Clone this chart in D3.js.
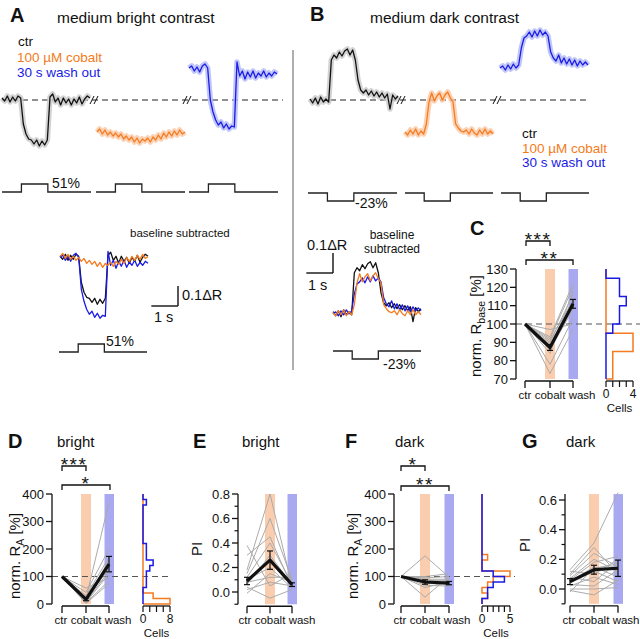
<!DOCTYPE html>
<html><head><meta charset="utf-8">
<script src="https://cdn.jsdelivr.net/npm/d3@7"></script>
<style>body{margin:0;background:#fff}</style>
</head><body><script>
// ---------------- DATA ----------------
const sampleStep = 0.1;          // s between samples
const stimOn = 0.72, stimOff = 1.7, sweepEnd = 3.3;
const contrastBright = "51%", contrastDark = "-23%";
const conditions = ["ctr", "cobalt", "wash"];
const legendLabels = ["ctr", "100 µM cobalt", "30 s wash out"];

// medium bright contrast (ΔR relative to control baseline)
const brightCtr = [0.01,-0.005,0.02,-0.01,0.015,-0.005,0.02,0.01,-0.12,-0.17,-0.195,-0.2,-0.22,-0.2,-0.23,-0.205,-0.225,-0.2,0.015,0.03,-0.01,0.01,-0.025,0.01,-0.015,0.005,-0.025,0.005,-0.015,0.015,-0.02,0.005,0.02,0.01];
const brightCobalt = [-0.16,-0.145,-0.17,-0.15,-0.175,-0.16,-0.18,-0.165,-0.185,-0.17,-0.195,-0.18,-0.2,-0.185,-0.21,-0.19,-0.215,-0.195,-0.205,-0.19,-0.21,-0.185,-0.2,-0.175,-0.195,-0.165,-0.185,-0.16,-0.18,-0.155,-0.175,-0.15,-0.17,-0.16];
const brightWash = [0.16,0.17,0.145,0.165,0.14,0.17,0.18,0.16,0.0,-0.06,-0.1,-0.125,-0.11,-0.14,-0.12,-0.145,-0.13,-0.135,0.19,0.12,0.145,0.105,0.14,0.115,0.145,0.11,0.135,0.12,0.145,0.115,0.135,0.12,0.14,0.13];
// medium dark contrast
const darkCtr = [0.005,-0.015,0.01,-0.02,0.015,-0.01,0.005,-0.01,0.2,0.225,0.21,0.24,0.22,0.245,0.255,0.225,0.25,0.2,0.1,0.05,0.035,0.05,0.025,0.045,0.02,0.04,0.015,0.035,0.01,0.03,-0.045,0.025,0.005,0.02];
const darkCobalt = [-0.16,-0.175,-0.15,-0.17,-0.145,-0.175,-0.155,-0.17,-0.12,-0.01,0.035,-0.005,0.02,0.035,0.0,0.025,0.04,0.01,-0.01,-0.12,-0.14,-0.155,-0.16,-0.15,-0.17,-0.145,-0.165,-0.175,-0.15,-0.17,-0.145,-0.17,-0.155,-0.17];
const darkWash = [0.16,0.17,0.15,0.175,0.155,0.18,0.16,0.175,0.26,0.31,0.32,0.34,0.315,0.345,0.32,0.35,0.325,0.34,0.32,0.24,0.21,0.195,0.225,0.185,0.21,0.18,0.205,0.175,0.2,0.17,0.195,0.175,0.19,0.175];
const baselineSamples = 7;

// C: norm. R_base [%]
const cCtr = [100,100,100,100,100,100,100,100,100,100,100,100];
const cCobalt = [97,93,92,91,90,89,88,87,86,84,78,73];
const cWash = [100,122,120,113,116,112,111,110,108,118,103,97];
const cMean = [100,87.2,111];
const cErr = [0,1.6,2.4];
const cHistEdges = [70,75,80,85,90,95,100,105,110,115,120,125,130];
const cHistCobalt = [1,1,1,4,4,0,0,0,0,0,0,0];
const cHistWash = [0,0,0,0,0,1,2,2,3,2,2,0];

// D: norm. R_A [%] bright
const dCtr = [100,100,100,100,100,100,100,100,100,100,100];
const dCobalt = [58,42,30,24,20,15,12,9,6,4,2];
const dWash = [95,200,170,150,370,130,160,120,110,85,75];
const dMean = [100,17,145];
const dErr = [0,5,28];
const raHistEdges = [0,20,40,60,80,100,120,140,160,180,200,220,240,260,280,300,320,340,360,380,400];
const dHistCobalt = [8,3,0,0,0,0,0,0,0,0,0,0,0,0,0,0,0,0,0,0];
const dHistWash = [0,0,0,1,1,1,2,3,1,1,1,0,0,0,0,0,0,0,1,0];

// E: PI bright
const eCtr = [0.38,0.30,0.18,0.15,0.12,0.10,0.08,0.06,0.04,0.02,-0.01];
const eCobalt = [0.05,0.45,0.80,0.60,0.40,0.20,0.12,0.30,-0.05,0.08,0.15];
const eWash = [0.15,0.04,0.05,0.10,0.07,0.03,0.12,0.06,0.02,0.05,0.08];
const eMean = [0.09,0.26,0.06];
const eErr = [0.03,0.075,0.015];

// F: norm. R_A [%] dark
const fCtr = [100,100,100,100,100,100,100,100,100,100];
const fCobalt = [175,100,95,90,85,80,75,68,60,25];
const fWash = [98,110,100,90,85,78,72,65,80,100];
const fMean = [100,80,76];
const fErr = [0,8,6];
const fHistCobalt = [0,1,0,1,2,5,0,0,1,0,0,0,0,0,0,0,0,0,0,0];
const fHistWash = [0,1,1,2,4,2,0,0,0,0,0,0,0,0,0,0,0,0,0,0];

// G: PI dark
const gCtr = [0.13,0.12,0.10,0.09,0.08,0.07,0.06,0.05,0.04,0.03,0.02,0.00,-0.01,-0.02];
const gCobalt = [0.31,0.10,0.28,0.24,0.05,0.20,0.18,0.15,0.12,0.02,0.08,0.0,-0.04,0.14];
const gWash = [0.65,0.20,0.10,0.15,0.18,0.12,0.22,0.08,0.05,0.13,0.03,0.01,0.06,0.17];
const gMean = [0.05,0.13,0.14];
const gErr = [0.02,0.03,0.055];

// ---------------- STYLE ----------------
const FF = '"Liberation Sans", Arial, Helvetica, sans-serif';
const cBlack = "#111", cOrange = "#f47b20", cBlue = "#1a1ae6";
const bandBlack = "#c8c8c8", bandOrange = "#fbc7a2", bandBlue = "#b0b8f7";
const fillOrange = "#f9cdae", fillBlue = "#a9a9f2", grayLine = "#ababab";
const sweepPx = 88;

const svg = d3.select("body").append("svg").attr("width", 640).attr("height", 639)
  .style("font-family", FF).style("background", "#fff");

function T(x, y, s, o = {}) {
  const t = svg.append("text").attr("x", x).attr("y", y).text(s)
    .attr("font-size", o.size || 12).attr("fill", o.fill || cBlack);
  if (o.anchor) t.attr("text-anchor", o.anchor);
  if (o.weight) t.attr("font-weight", o.weight);
  return t;
}
function L(x1, y1, x2, y2, o = {}) {
  return svg.append("line").attr("x1", x1).attr("y1", y1).attr("x2", x2).attr("y2", y2)
    .attr("stroke", o.stroke || cBlack).attr("stroke-width", o.w || 1.2)
    .attr("stroke-dasharray", o.dash || null);
}
function breakMark(x, y) {
  [-2, 2].forEach(dx => L(x + dx - 2, y + 4, x + dx + 2, y - 4, {w: 1}));
}
function drawTrace(values, x0, y, color, band) {
  const x = d3.scaleLinear().domain([0, sweepEnd]).range([x0, x0 + sweepPx]);
  const line = d3.line().x((d, i) => x(i * sampleStep)).y(d => y(d));
  if (band) svg.append("path").attr("d", line(values)).attr("fill", "none")
    .attr("stroke", band).attr("stroke-width", 5.5).attr("stroke-linejoin", "round").attr("opacity", 0.8);
  svg.append("path").attr("d", line(values)).attr("fill", "none")
    .attr("stroke", color).attr("stroke-width", 1.3).attr("stroke-linejoin", "round");
  return x;
}
function drawStim(x0, yBase, sign, width) {
  const x = d3.scaleLinear().domain([0, sweepEnd]).range([x0, x0 + width]);
  const y = d3.scaleLinear().domain([-1, 1]).range([yBase + 8, yBase - 8]);
  const pts = [[0, 0], [stimOn, 0], [stimOn, sign], [stimOff, sign], [stimOff, 0], [sweepEnd, 0]];
  svg.append("path").attr("d", d3.line().x(d => x(d[0])).y(d => y(d[1]))(pts))
    .attr("fill", "none").attr("stroke", "#222").attr("stroke-width", 1.3);
}
const subtractBaseline = arr => { const b = d3.mean(arr.slice(0, baselineSamples)); return arr.map(v => v - b); };

// ---------------- PANEL A ----------------
T(10, 22, "A", {size: 20, weight: "bold"});
T(57, 23, "medium bright contrast", {size: 15.5});
T(18, 46, legendLabels[0], {size: 13.5});
T(17, 62, legendLabels[1], {size: 13.5, fill: cOrange});
T(17, 77, legendLabels[2], {size: 13.5, fill: cBlue});
const yTop = d3.scaleLinear().domain([0, 0.1]).range([100, 80]);
L(2, yTop(0), 283, yTop(0), {dash: "6,4", stroke: "#222", w: 1.2});
drawTrace(brightCtr, 2, yTop, cBlack, bandBlack);
drawTrace(brightCobalt, 97, yTop, cOrange, bandOrange);
drawTrace(brightWash, 189, yTop, cBlue, bandBlue);
breakMark(94, 100); breakMark(187, 100);
drawStim(2, 192, 1, 89); drawStim(96, 192, 1, 89); drawStim(189, 192, 1, 89);
T(52, 188, contrastBright, {size: 14});

// baseline subtracted A
T(130, 237, "baseline subtracted", {size: 11.5});
const yA2 = d3.scaleLinear().domain([0, 0.1]).range([257, 237]);
const xA2 = drawTrace(subtractBaseline(brightCtr), 60, yA2, cBlack);
drawTrace(subtractBaseline(brightWash), 60, yA2, cBlue);
drawTrace(subtractBaseline(brightCobalt), 60, yA2, cOrange);
{
  const sbX = 178, sbY = 306, w = xA2(1) - xA2(0), h = yA2(0) - yA2(0.1);
  L(sbX - w, sbY, sbX, sbY, {w: 1.4}); L(sbX, sbY, sbX, sbY - h, {w: 1.4});
  T(182, 300, "0.1ΔR", {size: 14.5});
  T(154, 322, "1 s", {size: 14.5});
}
drawStim(59, 352, 1, 88);
T(106, 346, contrastBright, {size: 14});

// divider
L(293, 50, 293, 370, {stroke: "#9a9a9a", w: 1.6});

// ---------------- PANEL B ----------------
T(310, 21, "B", {size: 20, weight: "bold"});
T(370, 23, "medium dark contrast", {size: 15.5});
L(310, yTop(0), 590, yTop(0), {dash: "6,4", stroke: "#222", w: 1.2});
drawTrace(darkCtr, 310, yTop, cBlack, bandBlack);
drawTrace(darkCobalt, 405, yTop, cOrange, bandOrange);
drawTrace(darkWash, 500, yTop, cBlue, bandBlue);
breakMark(401, 100); breakMark(497, 100);
T(522, 138, legendLabels[0], {size: 13.5});
T(522, 153, legendLabels[1], {size: 13.5, fill: cOrange});
T(522, 167, legendLabels[2], {size: 13.5, fill: cBlue});
drawStim(308, 193, -1, 89); drawStim(405, 193, -1, 88); drawStim(501, 193, -1, 88);
T(355, 208, contrastDark, {size: 14});

// baseline subtracted B
T(392, 239, "baseline", {size: 12, anchor: "middle"});
T(392, 253, "subtracted", {size: 12, anchor: "middle"});
const yB2 = d3.scaleLinear().domain([0, 0.1]).range([313, 293]);
const xB2 = drawTrace(subtractBaseline(darkCtr), 333, yB2, cBlack);
drawTrace(subtractBaseline(darkWash), 333, yB2, cBlue);
drawTrace(subtractBaseline(darkCobalt), 333, yB2, cOrange);
{
  const sbX = 333, sbY = 273, w = xB2(1) - xB2(0), h = yB2(0) - yB2(0.1);
  L(sbX - w, sbY, sbX, sbY, {w: 1.4}); L(sbX, sbY, sbX, sbY - h, {w: 1.4});
  T(307, 250, "0.1ΔR", {size: 14.5});
  T(308, 290, "1 s", {size: 14.5});
}
drawStim(333, 351, -1, 88);
T(383, 369, contrastDark, {size: 14});

// ---------------- STAT PANELS ----------------
function bracket(x1, x2, y, stars, starX) {
  svg.append("path").attr("d", `M${x1},${y + 5}V${y}H${x2}V${y + 5}`)
    .attr("fill", "none").attr("stroke", cBlack).attr("stroke-width", 1.3);
  T(starX, y + 5, stars, {size: 19, anchor: "middle"}).attr("letter-spacing", 1.5);
}
function statPanel(p) {
  const y = d3.scaleLinear().domain(p.yDomain).range(p.yRange);
  const cx = p.catX;
  const yTopPx = y(p.axisTop), yBotPx = y(p.axisBottom);
  // bands
  svg.append("rect").attr("x", cx[1] - 5).attr("y", yTopPx).attr("width", 10).attr("height", yBotPx - yTopPx).attr("fill", fillOrange);
  svg.append("rect").attr("x", cx[2] - 4.5).attr("y", yTopPx).attr("width", 9.5).attr("height", yBotPx - yTopPx).attr("fill", fillBlue);
  if (p.dashAt !== undefined) L(p.axisX, y(p.dashAt), p.dashEnd, y(p.dashAt), {dash: "6,4", stroke: "#555", w: 1.2});
  // individual cells
  const line = d3.line().x((d, i) => cx[i]).y(d => y(d));
  p.cells[0].forEach((_, k) => {
    svg.append("path").attr("d", line([p.cells[0][k], p.cells[1][k], p.cells[2][k]]))
      .attr("fill", "none").attr("stroke", grayLine).attr("stroke-width", 1);
  });
  // mean
  svg.append("path").attr("d", line(p.mean)).attr("fill", "none").attr("stroke", cBlack)
    .attr("stroke-width", 3.2).attr("stroke-linejoin", "round");
  p.mean.forEach((m, i) => {
    if (!p.err[i]) return;
    L(cx[i], y(m - p.err[i]), cx[i], y(m + p.err[i]), {w: 1.2});
    L(cx[i] - 3, y(m - p.err[i]), cx[i] + 3, y(m - p.err[i]), {w: 1.2});
    L(cx[i] - 3, y(m + p.err[i]), cx[i] + 3, y(m + p.err[i]), {w: 1.2});
  });
  // y axis
  L(p.axisX, yTopPx, p.axisX, yBotPx, {w: 1.3});
  p.ticks.forEach(t => {
    L(p.axisX - 6, y(t), p.axisX, y(t), {w: 1.3});
    T(p.axisX - 8, y(t) + 4.5, p.fmt(t), {size: 13, anchor: "end"});
  });
  (p.minor || []).forEach(t => L(p.axisX - 3.5, y(t), p.axisX, y(t), {w: 1.2}));
  // x axis
  const xa = yBotPx + 2;
  L(cx[0], xa, cx[2], xa, {w: 1.3});
  cx.forEach(x => L(x, xa, x, xa + 7, {w: 1.3}));
  const fs = 11.5, gap = 3.3;
  const mid = T(cx[1], xa + 18, conditions[1], {size: fs, anchor: "middle"});
  const half = mid.node().getComputedTextLength() / 2;
  T(cx[1] - half - gap, xa + 18, conditions[0], {size: fs, anchor: "end"});
  T(cx[1] + half + gap, xa + 18, conditions[2], {size: fs, anchor: "start"});
  // y label
  const lab = svg.append("text").attr("transform", `translate(${p.labelX},${p.labelY}) rotate(-90)`)
    .attr("text-anchor", "middle").attr("font-size", 15).attr("fill", cBlack);
  if (p.sub) {
    lab.append("tspan").text(p.label);
    lab.append("tspan").attr("dy", 4).attr("font-size", 10.5).text(p.sub);
    lab.append("tspan").attr("dy", -4).text(" [%]");
  } else lab.text(p.label);
  // histogram
  if (p.hist) {
    const h = p.hist;
    const hx = d3.scaleLinear().domain([0, h.max]).range([h.x0, h.x1]);
    const e = h.edges;
    const mk = counts => {
      const pts = [[0, e[e.length - 1]]];
      for (let i = counts.length - 1; i >= 0; i--) { pts.push([counts[i], e[i + 1]]); pts.push([counts[i], e[i]]); }
      pts.push([0, e[0]]);
      return d3.line().x(d => hx(d[0])).y(d => y(d[1]))(pts);
    };
    svg.append("path").attr("d", mk(h.cobalt)).attr("fill", "none").attr("stroke", cOrange).attr("stroke-width", 1.5);
    svg.append("path").attr("d", mk(h.wash)).attr("fill", "none").attr("stroke", cBlue).attr("stroke-width", 1.5);
    L(hx(0), xa, hx(h.max), xa, {w: 1.3});
    h.ticks.forEach(t => L(hx(t), xa, hx(t), xa + 6, {w: 1.2}));
    T(hx(0), xa + 17, "0", {size: 12, anchor: "middle"});
    T(hx(h.max), xa + 17, String(h.max), {size: 12, anchor: "middle"});
    T((hx(0) + hx(h.max)) / 2, xa + 31, "Cells", {size: 11.5, anchor: "middle"});
  }
}

// C
T(470, 235, "C", {size: 20, weight: "bold"});
bracket(526, 550, 241, "***", 538);
bracket(526, 573, 260, "**", 549.5);
statPanel({yDomain: [70, 130], yRange: [379, 269], axisTop: 130, axisBottom: 70, axisX: 516,
  catX: [525, 550, 573], cells: [cCtr, cCobalt, cWash], mean: cMean, err: cErr,
  ticks: [70, 80, 90, 100, 110, 120, 130], fmt: d3.format("d"), dashAt: 100, dashEnd: 640,
  label: "norm. R", sub: "base", labelX: 481, labelY: 326,
  hist: {edges: cHistEdges, cobalt: cHistCobalt, wash: cHistWash, max: 4, x0: 606, x1: 633, ticks: [0, 1, 2, 3, 4]}});

// D
T(8, 448, "D", {size: 20, weight: "bold"});
T(57, 447, "bright", {size: 15});
bracket(62, 86, 466, "***", 74);
bracket(62, 110, 485, "*", 86);
statPanel({yDomain: [0, 400], yRange: [604, 494], axisTop: 400, axisBottom: 0, axisX: 52,
  catX: [62, 86, 109], cells: [dCtr, dCobalt, dWash], mean: dMean, err: dErr,
  ticks: [0, 100, 200, 300, 400], fmt: d3.format("d"), dashAt: 100, dashEnd: 172,
  label: "norm. R", sub: "A", labelX: 20, labelY: 556,
  hist: {edges: raHistEdges, cobalt: dHistCobalt, wash: dHistWash, max: 8, x0: 143, x1: 170, ticks: [0, 2, 4, 6, 8]}});

// E
T(193, 448, "E", {size: 20, weight: "bold"});
T(242, 447, "bright", {size: 15});
statPanel({yDomain: [0, 0.8], yRange: [592, 494], axisTop: 0.8, axisBottom: -0.1, axisX: 238,
  catX: [247, 270, 292], cells: [eCtr, eCobalt, eWash], mean: eMean, err: eErr,
  ticks: [0, 0.2, 0.4, 0.6, 0.8], minor: [-0.1, 0.1, 0.3, 0.5, 0.7], fmt: d3.format(".1f"),
  label: "PI", labelX: 202, labelY: 549});

// F
T(345, 448, "F", {size: 20, weight: "bold"});
T(395, 447, "dark", {size: 15});
bracket(401, 425, 466, "*", 413);
bracket(401, 449, 486, "**", 425);
statPanel({yDomain: [0, 400], yRange: [604, 494], axisTop: 400, axisBottom: 0, axisX: 394,
  catX: [401, 425, 449], cells: [fCtr, fCobalt, fWash], mean: fMean, err: fErr,
  ticks: [0, 100, 200, 300, 400], fmt: d3.format("d"), dashAt: 100, dashEnd: 515,
  label: "norm. R", sub: "A", labelX: 358, labelY: 556,
  hist: {edges: raHistEdges, cobalt: fHistCobalt, wash: fHistWash, max: 5, x0: 482, x1: 510, ticks: [0, 1, 2, 3, 4, 5]}});

// G
T(522, 448, "G", {size: 20, weight: "bold"});
T(566, 447, "dark", {size: 15});
statPanel({yDomain: [0, 0.6], yRange: [589, 500], axisTop: 0.64, axisBottom: -0.1, axisX: 565,
  catX: [570, 594, 618], cells: [gCtr, gCobalt, gWash], mean: gMean, err: gErr,
  ticks: [0, 0.2, 0.4, 0.6], minor: [-0.1, 0.1, 0.3, 0.5], fmt: d3.format(".1f"),
  label: "PI", labelX: 530, labelY: 545});
</script></body></html>
